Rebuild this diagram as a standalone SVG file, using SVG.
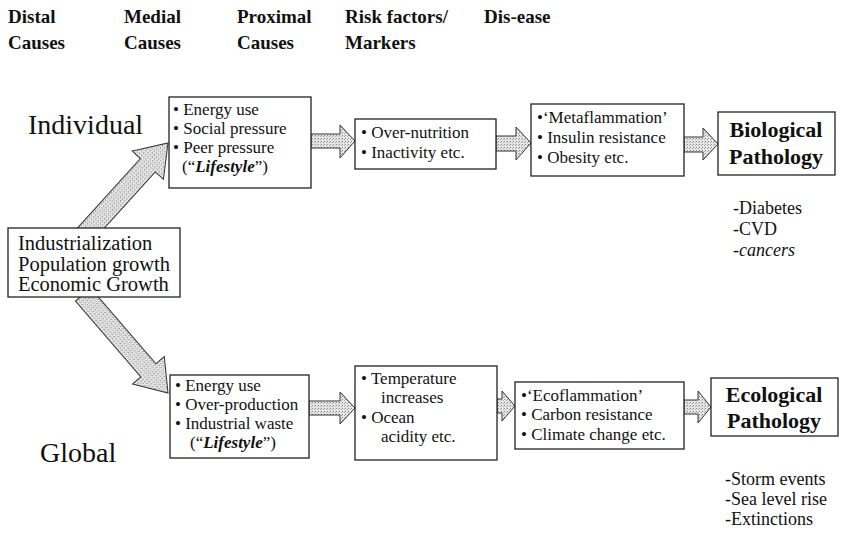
<svg xmlns="http://www.w3.org/2000/svg" width="843" height="534" viewBox="0 0 843 534">
<style>
text{font-family:"Liberation Serif","Times New Roman",serif;fill:#111}
.hd{font-size:19px;font-weight:bold}
.big{font-size:28px}
.b{font-size:17px}
.d{font-size:20.5px}
.pat{font-size:22px;font-weight:bold;text-anchor:middle}
.out{font-size:18px}
.box{fill:#fff;stroke:#222;stroke-width:1.3}
.arr{fill:url(#stip);stroke:#333;stroke-width:1}
</style>
<defs>
<pattern id="stip" width="3" height="3" patternUnits="userSpaceOnUse">
<rect width="3" height="3" fill="#e6e6e6"/>
<rect x="0" y="0" width="1" height="1" fill="#8a8a8a"/>
<rect x="2" y="1" width="1" height="1" fill="#aaa"/>
</pattern>
</defs>
<rect width="843" height="534" fill="#fff"/>
<g id="headers">
<text class="hd" x="8" y="23">Distal</text><text class="hd" x="8" y="49">Causes</text>
<text class="hd" x="124" y="23">Medial</text><text class="hd" x="124" y="49">Causes</text>
<text class="hd" x="237" y="23">Proximal</text><text class="hd" x="237" y="49">Causes</text>
<text class="hd" x="345" y="23">Risk factors/</text><text class="hd" x="345" y="49">Markers</text>
<text class="hd" x="484" y="23">Dis-ease</text>
</g>
<g id="connectors">
<g transform="translate(168,143) rotate(-47.8)"><polygon class="arr" points="-128,-10 -30,-10 -30,-21 0,0 -30,21 -30,10 -128,10"/></g>
<g transform="translate(168,393) rotate(49.2)"><polygon class="arr" points="-130,-10 -30,-10 -30,-21 0,0 -30,21 -30,10 -130,10"/></g>
<polygon class="arr" points="311,134 340,134 340,125 355,141 340,158 340,148 311,148"/>
<polygon class="arr" points="496,136 516,136 516,127 531,143 516,160 516,151 496,151"/>
<polygon class="arr" points="684,137 703,137 703,128 718,144 703,160 703,152 684,152"/>
<polygon class="arr" points="309,401 340,401 340,392 355,408 340,424 340,415 309,415"/>
<polygon class="arr" points="497,399 502,399 502,391 515,406 502,421 502,413 497,413"/>
<polygon class="arr" points="684,400 698,400 698,391 711,407 698,423 698,414 684,414"/>
</g>
<g id="individual"><text class="big" x="28" y="134">Individual</text></g>
<g id="global"><text class="big" x="40" y="462">Global</text></g>
<g id="distal">
<rect class="box" x="8" y="228" width="172" height="69"/>
<text class="d" x="18" y="250">Industrialization</text>
<text class="d" x="18" y="271">Population growth</text>
<text class="d" x="18" y="291">Economic Growth</text>
</g>
<g id="medial-top">
<rect class="box" x="169" y="97" width="142" height="91"/>
<text class="b" x="173" y="115">• Energy use</text>
<text class="b" x="173" y="134">• Social pressure</text>
<text class="b" x="173" y="153">• Peer pressure</text>
<text class="b" x="182" y="172">(“<tspan font-style="italic" font-weight="bold">Lifestyle</tspan>”)</text>
</g>
<g id="proximal-top">
<rect class="box" x="355" y="119" width="141" height="50"/>
<text class="b" x="361" y="138">• Over-nutrition</text>
<text class="b" x="361" y="158">• Inactivity etc.</text>
</g>
<g id="risk-top">
<rect class="box" x="531" y="104" width="153" height="72"/>
<text class="b" x="537" y="123">•‘Metaflammation’</text>
<text class="b" x="537" y="143">• Insulin resistance</text>
<text class="b" x="537" y="163">• Obesity etc.</text>
</g>
<g id="bio">
<rect class="box" x="718" y="112" width="117" height="63"/>
<text class="pat" x="776" y="137">Biological</text>
<text class="pat" x="776" y="164">Pathology</text>
</g>
<g id="bio-out">
<text class="out" x="733" y="214">-Diabetes</text>
<text class="out" x="733" y="235">-CVD</text>
<text class="out" x="733" y="256" font-style="italic">-cancers</text>
</g>
<g id="medial-bottom">
<rect class="box" x="170" y="375" width="139" height="83"/>
<text class="b" x="175" y="391">• Energy use</text>
<text class="b" x="175" y="410">• Over-production</text>
<text class="b" x="175" y="429">• Industrial waste</text>
<text class="b" x="190" y="448">(“<tspan font-style="italic" font-weight="bold">Lifestyle</tspan>”)</text>
</g>
<g id="proximal-bottom">
<rect class="box" x="355" y="366" width="142" height="94"/>
<text class="b" x="361" y="384">• Temperature</text>
<text class="b" x="381" y="403">increases</text>
<text class="b" x="361" y="423">• Ocean</text>
<text class="b" x="381" y="442">acidity etc.</text>
</g>
<g id="risk-bottom">
<rect class="box" x="515" y="382" width="169" height="67"/>
<text class="b" x="521" y="401">•‘Ecoflammation’</text>
<text class="b" x="521" y="420">• Carbon resistance</text>
<text class="b" x="521" y="440">• Climate change etc.</text>
</g>
<g id="eco">
<rect class="box" x="711" y="378" width="127" height="58"/>
<text class="pat" x="774" y="402">Ecological</text>
<text class="pat" x="774" y="428">Pathology</text>
</g>
<g id="eco-out">
<text class="out" x="725" y="485">-Storm events</text>
<text class="out" x="725" y="505">-Sea level rise</text>
<text class="out" x="725" y="525">-Extinctions</text>
</g>
</svg>
